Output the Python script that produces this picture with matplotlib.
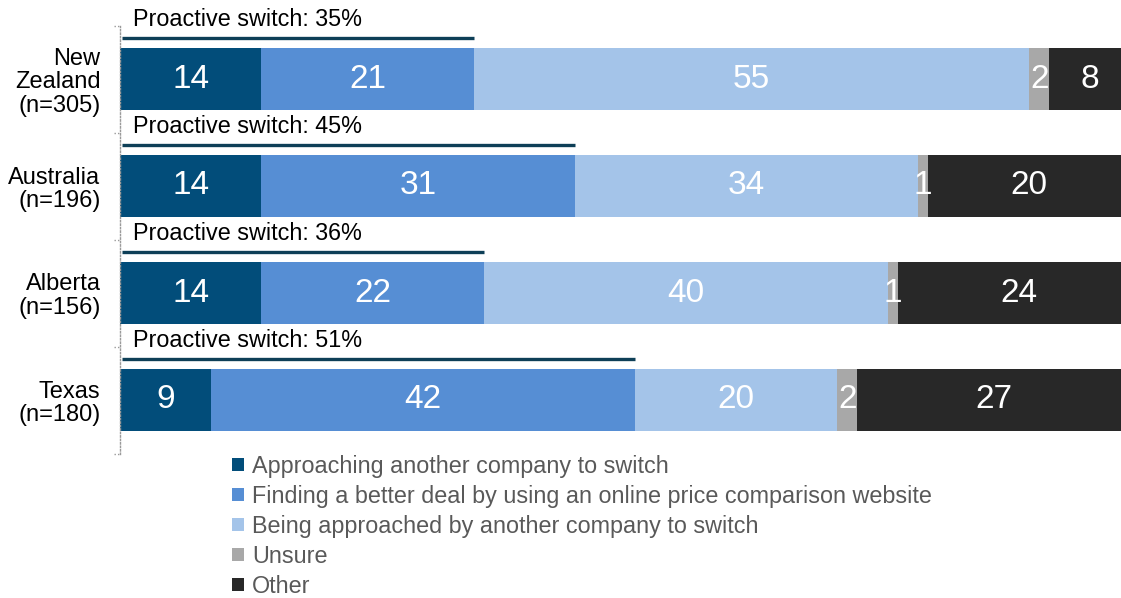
import numpy as np
import matplotlib
matplotlib.use("Agg")
import matplotlib.pyplot as plt
from matplotlib.patches import Patch

plt.rcParams['font.family'] = ['Liberation Sans', 'DejaVu Sans']

# survey data: how people switched provider (%)
regions = ['New\nZealand\n(n=305)', 'Australia\n(n=196)', 'Alberta\n(n=156)', 'Texas\n(n=180)']
approaching = [14, 14, 14, 9]
online_deal = [21, 31, 22, 42]
approached = [55, 34, 40, 20]
unsure = [2, 1, 1, 2]
other = [8, 20, 24, 27]
proactive = [35, 45, 36, 51]

series_names = ['Approaching another company to switch',
                'Finding a better deal by using an online price comparison website',
                'Being approached by another company to switch',
                'Unsure',
                'Other']
colors = ['#024d7a', '#568ed4', '#a4c4e9', '#a8a8a8', '#282828']
line_color = '#0e3f57'

series = [approaching, online_deal, approached, unsure, other]

fig = plt.figure(figsize=(11.21, 5.98), dpi=100)
ax = fig.add_axes([120 / 1121, 1 - 453.5 / 598, 1 - 120 / 1121, 428 / 598])

y = np.arange(len(regions))
left = np.zeros(len(regions))
for vals, col in zip(series, colors):
    vals = np.array(vals, dtype=float)
    ax.barh(y, vals, left=left, height=0.58, color=col, edgecolor='none')
    for yi, l, v in zip(y, left, vals):
        ax.text(l + v / 2, yi, f'{int(v)}', ha='center', va='center',
                color='white', fontsize=24)
    left += vals

# proactive switch bars and labels above each row
for yi, p in zip(y, proactive):
    ax.plot([0.15, p], [yi - 0.385, yi - 0.385], color=line_color, lw=2.4,
            solid_capstyle='butt', clip_on=False)
    ax.text(1.25, yi - 0.56, f'Proactive switch: {p}%', ha='left', va='center',
            fontsize=16.8, color='black', clip_on=False)

ax.set_xlim(0, 99.1)
ax.set_ylim(len(regions) - 0.5, -0.5)
ax.set_yticks(y)
ax.set_yticklabels(regions, fontsize=17, linespacing=1.08)
ax.tick_params(axis='y', length=0, pad=14)
ax.set_xticks([])
for s in ['top', 'right', 'bottom']:
    ax.spines[s].set_visible(False)
ax.spines['left'].set_linestyle((0, (1, 1.5)))
ax.spines['left'].set_color('#9a9a9a')
ax.spines['left'].set_linewidth(1)

# dotted boundary ticks on the category axis
trans = ax.get_yaxis_transform()
for b in np.arange(-0.5, len(regions), 1.0):
    ax.plot([-0.006, 0], [b, b], transform=trans, color='#9a9a9a', lw=1,
            ls=(0, (1, 1.5)), clip_on=False)

handles = [Patch(facecolor=c, edgecolor='none') for c in colors]
leg = fig.legend(handles, series_names, loc='upper left',
                 bbox_to_anchor=(232 / 1121, 1 - 455 / 598), frameon=False,
                 fontsize=16.8, handlelength=0.51, handleheight=0.51,
                 handletextpad=0.34, labelspacing=0.30, borderpad=0,
                 borderaxespad=0)
for t in leg.get_texts():
    t.set_color('#595959')

fig.savefig('out.png', dpi=100)
